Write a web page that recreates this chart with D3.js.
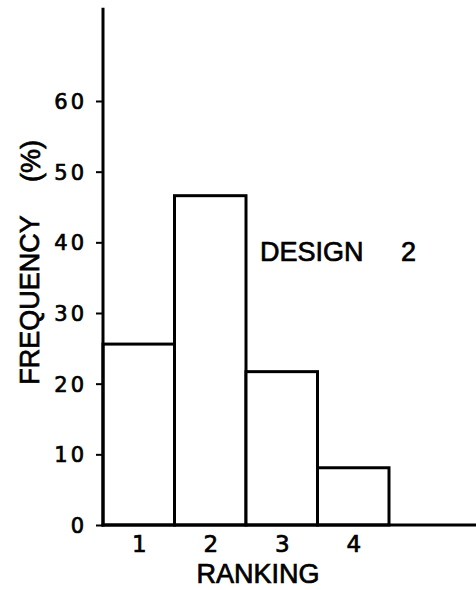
<!DOCTYPE html>
<html>
<head>
<meta charset="utf-8">
<script src="https://cdn.jsdelivr.net/npm/d3@7"></script>
<style>
  html, body { margin: 0; padding: 0; background: #fff; }
  svg { display: block; }
  text { font-family: "Liberation Sans", Arial, sans-serif; fill: #000; stroke: #000; stroke-width: 0.7px; }
</style>
</head>
<body>
<svg id="chart" width="476" height="590"></svg>
<script>
// Ranking categories and the share of responses (%) for each
const rankings = [1, 2, 3, 4];
const frequency = [25.6, 46.6, 21.7, 8.1];
const yTicks = [0, 10, 20, 30, 40, 50, 60];
const yTitle = "FREQUENCY";
const yUnit = "(%)";
const xTitle = "RANKING";
const designLabel = "DESIGN";
const designNumber = "2";

const svg = d3.select("#chart");

// Histogram bins span rank-0.5 .. rank+0.5; the baseline runs past the last bin
const x = d3.scaleLinear().domain([0.5, 4.5]).range([103, 389]);
const y = d3.scaleLinear().domain([0, 60]).range([525, 101]);
const yTop = 73.2;
const xRight = x.invert(476);

// Bars (open rectangles)
svg.append("g")
  .selectAll("rect")
  .data(rankings)
  .join("rect")
  .attr("x", d => x(d - 0.5))
  .attr("width", d => x(d + 0.5) - x(d - 0.5))
  .attr("y", (d, i) => y(frequency[i]))
  .attr("height", (d, i) => y(0) - y(frequency[i]))
  .attr("fill", "#fff")
  .attr("stroke", "#000")
  .attr("stroke-width", 3);

// Y axis: long vertical line with short ticks to the left
const yAxis = d3.axisLeft(y)
  .tickValues(yTicks)
  .tickSize(7)
  .tickPadding(8)
  .tickFormat(d3.format("d"));
const gy = svg.append("g").attr("transform", `translate(${x(0.5)},0)`).call(yAxis);
gy.select(".domain").remove();
gy.selectAll(".tick line").attr("stroke", "#000").attr("stroke-width", 2);
gy.selectAll(".tick text")
  .style("font-family", "'DejaVu Sans', sans-serif")
  .style("font-size", "21px")
  .style("letter-spacing", "3px")
  .attr("dy", "0.36em")
  .attr("x", -16);

svg.append("line")
  .attr("x1", x(0.5)).attr("x2", x(0.5))
  .attr("y1", y(yTop)).attr("y2", y(0) + 1.5)
  .attr("stroke", "#000").attr("stroke-width", 3);

// Baseline
svg.append("line")
  .attr("x1", x(0.5) - 1.5).attr("x2", x(xRight))
  .attr("y1", y(0)).attr("y2", y(0))
  .attr("stroke", "#000").attr("stroke-width", 3);

// X tick labels under each bin
const xAxis = d3.axisBottom(x).tickValues(rankings).tickSize(0).tickPadding(0).tickFormat(d3.format("d"));
const gx = svg.append("g").attr("transform", `translate(0,${y(0)})`).call(xAxis);
gx.select(".domain").remove();
gx.selectAll(".tick text")
  .style("font-family", "'DejaVu Sans', sans-serif")
  .style("font-size", "23px")
  .attr("y", 27)
  .attr("dy", 0);

// Axis titles
svg.append("text")
  .attr("x", 258).attr("y", 583)
  .attr("text-anchor", "middle")
  .style("font-size", "27px")
  .text(xTitle);

svg.append("text")
  .attr("transform", "translate(39,300) rotate(-90)")
  .attr("text-anchor", "middle")
  .style("font-size", "27px")
  .text(yTitle);

svg.append("text")
  .attr("transform", "translate(40,161) rotate(-90)")
  .attr("text-anchor", "middle")
  .style("font-size", "27px")
  .text(yUnit);

// Panel label
svg.append("text")
  .attr("x", 260).attr("y", 260.5)
  .style("font-size", "27px")
  .text(designLabel);
svg.append("text")
  .attr("x", 401).attr("y", 260.5)
  .style("font-size", "27px")
  .text(designNumber);
</script>
</body>
</html>
